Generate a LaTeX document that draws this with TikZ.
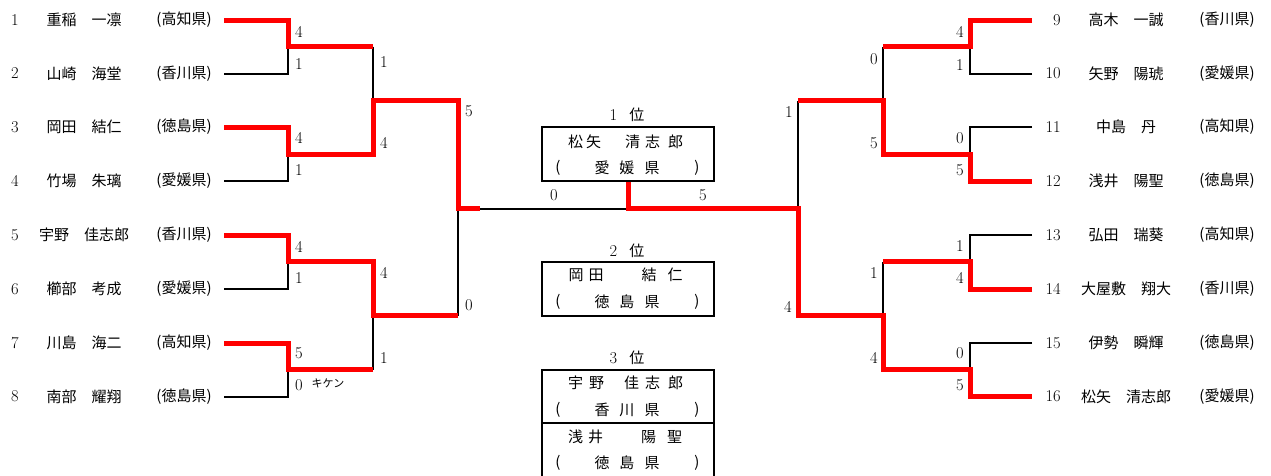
\documentclass[tikz,border=0pt]{standalone}
\usepackage{fontspec}
\newfontfamily\jp{Noto Sans CJK JP}
\usepackage{tikz}
\usetikzlibrary{calc}

\begin{document}
\begin{tikzpicture}[x=1pt,y=-1pt,line join=miter,
		lose/.style={black,line width=2pt},
		win/.style={red,line width=5pt},
		score/.style={inner sep=0pt,font=\fontsize{16.5}{18}\selectfont},
		seed/.style={inner sep=0pt,font=\fontsize{16.5}{18}\selectfont},
		player/.style={inner sep=0pt,font=\jp\fontsize{15}{17}\selectfont},
		rankbox/.style={draw,line width=2pt,minimum width=172pt,minimum height=54pt,inner sep=0pt}]
		\useasboundingbox (0,0) rectangle (1271,475);
		
		% left half
		\node[seed] (n1) at (15,20) {1};   \node[player] (name1) at (84,20) {重稲　一凛};   \node[player] (pref1) at (184,20) {(高知県)};
		\node[seed] (n2) at (15,73.5) {2}; \node[player] (name2) at (84,73.5) {山崎　海堂}; \node[player] (pref2) at (184,73.5) {(香川県)};
		\node[seed] (n3) at (15,127) {3};  \node[player] (name3) at (84,127) {岡田　結仁};  \node[player] (pref3) at (184,127) {(徳島県)};
		\node[seed] (n4) at (15,181) {4};  \node[player] (name4) at (84,181) {竹場　朱璃};  \node[player] (pref4) at (184,181) {(愛媛県)};
		\node[seed] (n5) at (15,235) {5};  \node[player] (name5) at (84,235) {宇野　佳志郎}; \node[player] (pref5) at (184,235) {(香川県)};
		\node[seed] (n6) at (15,289) {6};  \node[player] (name6) at (84,289) {櫛部　考成};  \node[player] (pref6) at (184,289) {(愛媛県)};
		\node[seed] (n7) at (15,343) {7};  \node[player] (name7) at (84,343) {川島　海二};  \node[player] (pref7) at (184,343) {(高知県)};
		\node[seed] (n8) at (15,396.5) {8}; \node[player] (name8) at (84,396.5) {南部　耀翔}; \node[player] (pref8) at (184,396.5) {(徳島県)};
		
		% right half
		\node[seed,anchor=east] (n9) at (1061,20) {9};     \node[player] (name9) at (1126,20) {高木　一誠};    \node[player] (pref9) at (1227,20) {(香川県)};
		\node[seed,anchor=east] (n10) at (1061,73.5) {10}; \node[player] (name10) at (1126,73.5) {矢野　陽琥}; \node[player] (pref10) at (1227,73.5) {(愛媛県)};
		\node[seed,anchor=east] (n11) at (1061,127) {11};  \node[player] (name11) at (1126,127) {中島　丹};     \node[player] (pref11) at (1227,127) {(高知県)};
		\node[seed,anchor=east] (n12) at (1061,181) {12};  \node[player] (name12) at (1126,181) {浅井　陽聖};   \node[player] (pref12) at (1227,181) {(徳島県)};
		\node[seed,anchor=east] (n13) at (1061,235) {13};  \node[player] (name13) at (1126,235) {弘田　瑞葵};   \node[player] (pref13) at (1227,235) {(高知県)};
		\node[seed,anchor=east] (n14) at (1061,289) {14};  \node[player] (name14) at (1126,289) {大屋敷　翔大}; \node[player] (pref14) at (1227,289) {(香川県)};
		\node[seed,anchor=east] (n15) at (1061,343) {15};  \node[player] (name15) at (1126,343) {伊勢　瞬輝};   \node[player] (pref15) at (1227,343) {(徳島県)};
		\node[seed,anchor=east] (n16) at (1061,396.5) {16}; \node[player] (name16) at (1126,396.5) {松矢　清志郎}; \node[player] (pref16) at (1227,396.5) {(愛媛県)};
		
		% line ends and junctions
		\coordinate (a1) at (224,20);   \coordinate (a2) at (224,73.5);
		\coordinate (a3) at (224,127);  \coordinate (a4) at (224,181);
		\coordinate (a5) at (224,235);  \coordinate (a6) at (224,289);
		\coordinate (a7) at (224,343);  \coordinate (a8) at (224,396.5);
		\coordinate (j1) at (288,46.7); \coordinate (j2) at (288,154.3);
		\coordinate (j3) at (288,261.7); \coordinate (j4) at (288,369.5);
		\coordinate (k1) at (373,46.7); \coordinate (k2) at (373,154.3);
		\coordinate (k3) at (373,261.7); \coordinate (k4) at (373,369.5);
		\coordinate (m1) at (373,100.5); \coordinate (m2) at (373,315.7);
		\coordinate (q1) at (458,100.5); \coordinate (q2) at (458,315.7);
		\coordinate (s1) at (458,208.5); \coordinate (f1) at (480,208.5);
		\coordinate (c) at (628,208.5);
		\coordinate (s2) at (798,208.5);
		\coordinate (q3) at (798,100.5); \coordinate (q4) at (798,315.7);
		\coordinate (m3) at (883,100.5); \coordinate (m4) at (883,315.7);
		\coordinate (k5) at (883,46.7); \coordinate (k6) at (883,154.3);
		\coordinate (k7) at (883,261.7); \coordinate (k8) at (883,369.5);
		\coordinate (j5) at (970,46.7); \coordinate (j6) at (970,154.3);
		\coordinate (j7) at (970,261.7); \coordinate (j8) at (970,369.5);
		\coordinate (b9) at (1032,20);   \coordinate (b10) at (1032,73.5);
		\coordinate (b11) at (1032,127); \coordinate (b12) at (1032,181);
		\coordinate (b13) at (1032,235); \coordinate (b14) at (1032,289);
		\coordinate (b15) at (1032,343); \coordinate (b16) at (1032,396.5);
		
		% rank boxes
		\node[score] (t1) at (627,115) {1\kern12pt{\jp\fontsize{15}{17}\selectfont 位}};
		\node[rankbox] (first) at (628,154) {};
		\node[player,anchor=west] (r1a) at (568,142) {松\kern3pt矢\kern24pt清\kern5pt志\kern8pt郎};
		\node[player] (r1l) at (558,168) {(};
		\node[player] (r1b) at (627,168) {愛\kern10pt媛\kern10pt県};
		\node[player] (r1r) at (697,168) {)};
		
		\node[score] (t2) at (627,251) {2\kern12pt{\jp\fontsize{15}{17}\selectfont 位}};
		\node[rankbox] (second) at (628,289) {};
		\node[player,anchor=west] (r2a) at (568.5,275) {岡\kern5pt田\kern38pt結\kern11pt仁};
		\node[player] (r2l) at (558,302) {(};
		\node[player] (r2b) at (627,302) {徳\kern10pt島\kern10pt県};
		\node[player] (r2r) at (697,302) {)};
		
		\node[score] (t3) at (627,358) {3\kern12pt{\jp\fontsize{15}{17}\selectfont 位}};
		\node[rankbox,minimum height=53pt] (third1) at (628,396.5) {};
		\node[rankbox] (third2) at (628,450) {};
		\node[player,anchor=west] (r3a) at (568,383) {宇\kern6pt野\kern20pt佳\kern6pt志\kern8pt郎};
		\node[player] (r3l) at (558,410) {(};
		\node[player] (r3b) at (627,410) {香\kern10pt川\kern10pt県};
		\node[player] (r3r) at (697,410) {)};
		\node[player,anchor=west] (r4a) at (568,437) {浅\kern5pt井\kern38pt陽\kern11pt聖};
		\node[player] (r4l) at (558,463) {(};
		\node[player] (r4b) at (627,463) {徳\kern10pt島\kern10pt県};
		\node[player] (r4r) at (697,463) {)};
		
		% losing lines
		\draw[lose] (a2) -| (j1);
		\draw[lose] (a4) -| (j2);
		\draw[lose] (a6) -| (j3);
		\draw[lose] (a8) -| (j4);
		\draw[lose] (k1) -- (m1);
		\draw[lose] (k4) -- (m2);
		\draw[lose] (q2) -- (s1);
		\draw[lose] (f1) -- (c);
		\draw[lose] (b10) -| (j5);
		\draw[lose] (b11) -| (j6);
		\draw[lose] (b13) -| (j7);
		\draw[lose] (b15) -| (j8);
		\draw[lose] (k5) -- (m3);
		\draw[lose] (k7) -- (m4);
		\draw[lose] (q3) -- (s2);
		
		% winning lines
		\draw[win] (a1) -| (j1) -- (k1);
		\draw[win] (a3) -| (j2) -- (k2) -- (m1) -- (q1) -- (s1) -- (f1);
		\draw[win] (a5) -| (j3) -- (k3) -- (m2) -- (q2);
		\draw[win] (a7) -| (j4) -- (k4);
		\draw[win] (b9) -| (j5) -- (k5);
		\draw[win] (b12) -| (j6) -- (k6) -- (m3) -- (q3);
		\draw[win] (b14) -| (j7) -- (k7);
		\draw[win] (first.south) -- (c) -- (s2) -- (q4) -- (m4) -- (k8) -- (j8) |- (b16);
		
		% scores
		\node[score] at (299,32) {4};  \node[score] at (299,64) {1};
		\node[score] at (299,138) {4}; \node[score] at (299,170) {1};
		\node[score] at (299,247) {4}; \node[score] at (299,278) {1};
		\node[score] at (299,353) {5}; \node[score] at (299,385) {0};
		\node[player,font=\jp\fontsize{11}{13}\selectfont] at (328,383) {キケン};
		\node[score] at (384,62) {1};  \node[score] at (384,143) {4};
		\node[score] at (384,273) {4}; \node[score] at (384,358) {1};
		\node[score] at (469,111) {5}; \node[score] at (469,305) {0};
		\node[score] at (554,195) {0}; \node[score] at (703,195) {5};
		\node[score] at (789,112) {1}; \node[score] at (788,307) {4};
		\node[score] at (874,59) {0};  \node[score] at (874,143) {5};
		\node[score] at (874,273) {1}; \node[score] at (874,358) {4};
		\node[score] at (960,32) {4};  \node[score] at (960,65) {1};
		\node[score] at (960,138) {0}; \node[score] at (960,170) {5};
		\node[score] at (960,246) {1}; \node[score] at (960,278) {4};
		\node[score] at (960,353) {0}; \node[score] at (960,385) {5};
\end{tikzpicture}
\end{document}
